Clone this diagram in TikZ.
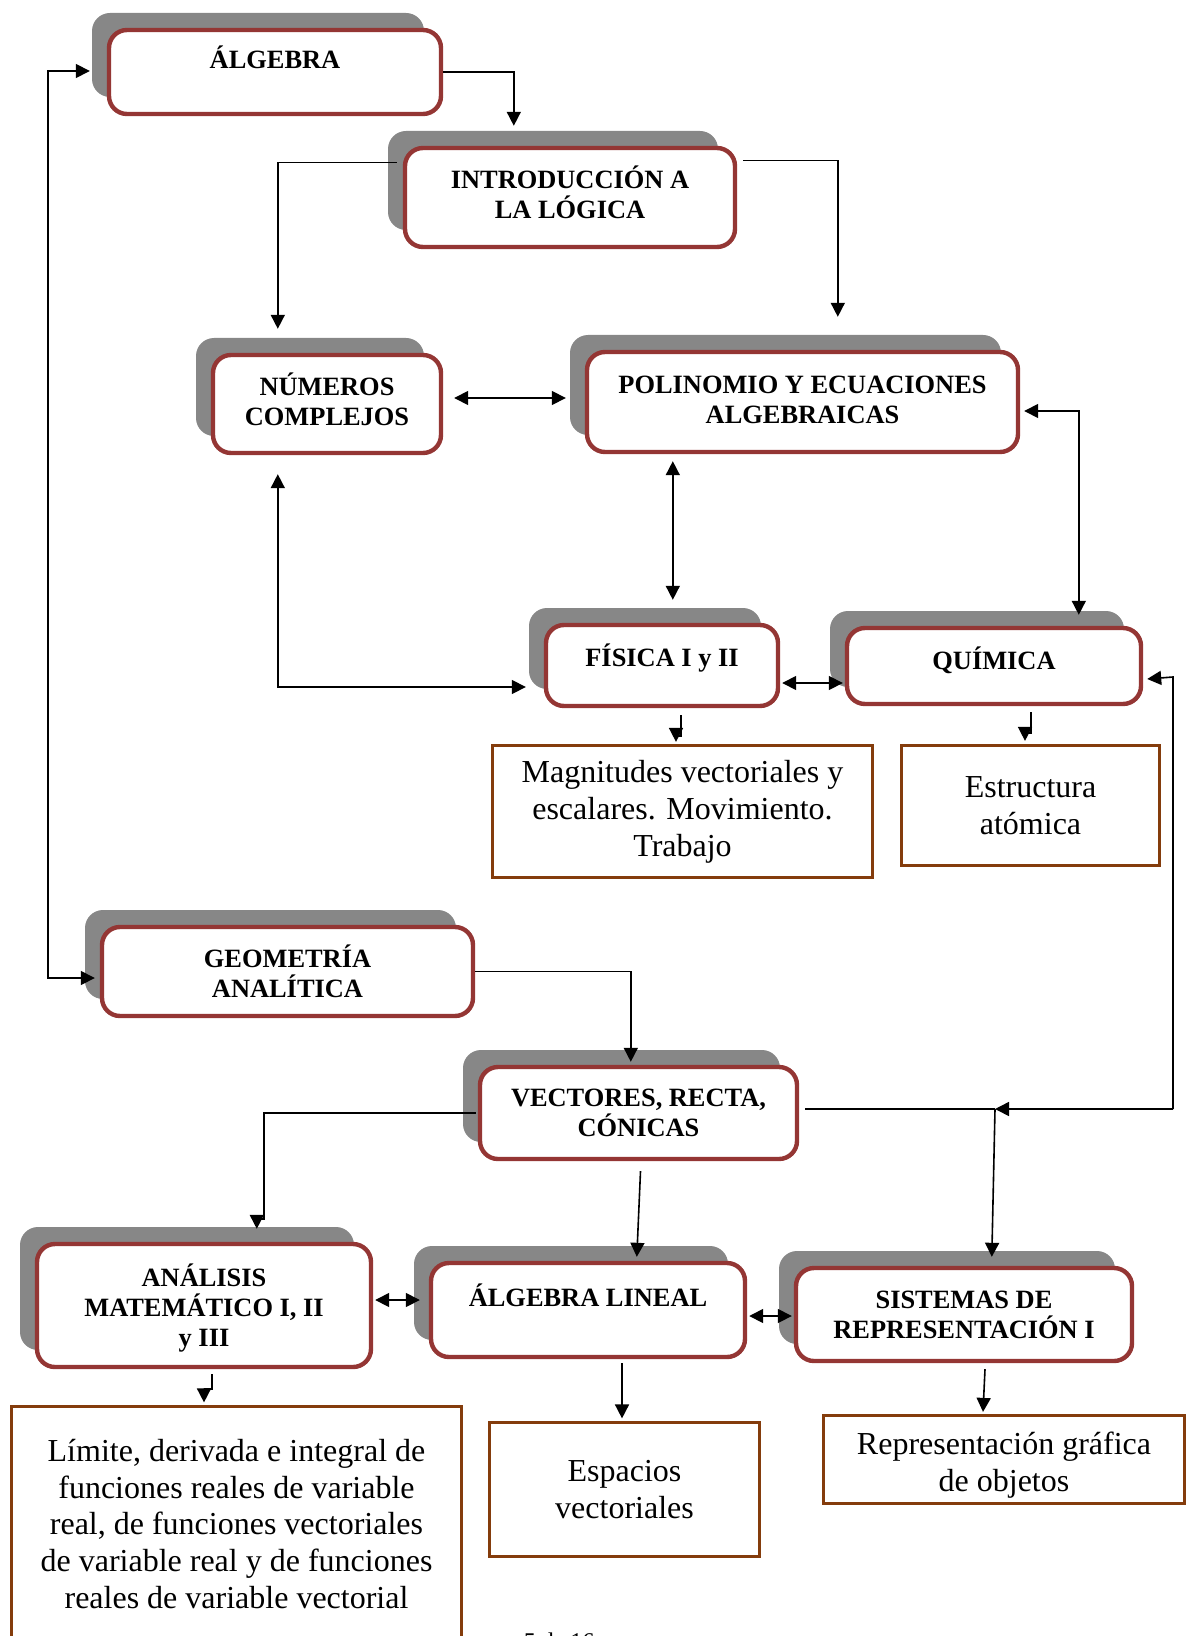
\documentclass[tikz,border=0pt]{standalone}
\usepackage{fontspec}
\setmainfont{Liberation Serif}
\usetikzlibrary{positioning,calc,shadows,arrows.meta}

\definecolor{borde}{RGB}{148,54,52}
\definecolor{sombra}{RGB}{135,135,135}
\definecolor{cafe}{RGB}{132,60,12}

\begin{document}
\begin{tikzpicture}[x=0.5pt, y=-0.5pt, >={Triangle[length=7pt,width=7pt]}, line width=0.8pt,
  curso/.style={draw=borde, line width=2.2pt, rounded corners=9pt, fill=white, align=center, inner sep=2pt,
    font=\bfseries\fontsize{13.2}{15}\selectfont,
    drop shadow={shadow xshift=-8.5pt, shadow yshift=8.5pt, fill=sombra, draw=none, opacity=1}},
  tema/.style={draw=cafe, line width=1.6pt, fill=white, align=center, inner sep=2pt,
    font=\fontsize{16}{18.4}\selectfont}]
  \useasboundingbox (0,0) rectangle (1189,1636);

  \node[curso, minimum width=166pt, minimum height=42pt] (alg) at (275,72) {ÁLGEBRA\\\mbox{}};
  \node[curso, minimum width=165pt, minimum height=49.5pt] (intro) at (570,197.5) {INTRODUCCIÓN A\\LA LÓGICA\\[-10pt]\mbox{}};
  \node[curso, minimum width=114pt, minimum height=49pt] (num) at (327,404) {NÚMEROS\\COMPLEJOS\\[-10pt]\mbox{}};
  \node[curso, minimum width=215.5pt, minimum height=50pt] (pol) at (802.5,402) {POLINOMIO Y ECUACIONES\\ALGEBRAICAS\\[-13pt]\mbox{}};
  \node[curso, minimum width=116pt, minimum height=40.5pt] (fis) at (662,665.5) {FÍSICA I y II\\[-5pt]\mbox{}};
  \node[curso, minimum width=147pt, minimum height=38pt] (quim) at (994,666) {QUÍMICA\\[-7pt]\mbox{}};
  \node[tema, minimum width=190pt, minimum height=66pt] (mag) at (682.5,811.5) {Magnitudes vectoriales y\\escalares. Movimiento.\\Trabajo};
  \node[tema, minimum width=129pt, minimum height=60pt] (estr) at (1030.5,805.5) {Estructura\\atómica};
  \node[curso, minimum width=185.5pt, minimum height=44.5pt] (geo) at (287.5,971.5) {GEOMETRÍA\\ANALÍTICA};
  \node[curso, minimum width=158.5pt, minimum height=46pt] (vect) at (638.5,1113) {VECTORES, RECTA,\\CÓNICAS};
  \node[curso, minimum width=167pt, minimum height=61.5pt] (anal) at (204,1305.5) {\rule{0pt}{14pt}ANÁLISIS\\MATEMÁTICO I, II\\y III};
  \node[curso, minimum width=157pt, minimum height=47pt] (alin) at (588,1310) {ÁLGEBRA LINEAL\\\mbox{}};
  \node[curso, minimum width=168pt, minimum height=46.5pt] (sist) at (964,1314.5) {SISTEMAS DE\\REPRESENTACIÓN I};
  \node[tema, minimum width=225pt, minimum height=117.5pt] (lim) at (236.5,1524) {Límite, derivada e integral de\\funciones reales de variable\\real, de funciones vectoriales\\de variable real y de funciones\\reales de variable vectorial};
  \node[tema, minimum width=135pt, minimum height=67pt] (esp) at (624.5,1489.5) {Espacios\\vectoriales};
  \node[tema, minimum width=180.5pt, minimum height=44pt] (rep) at (1004,1459.5) {\rule{0pt}{17pt}Representación gráfica\\de objetos};
  \node[font=\fontsize{12}{14}\selectfont, anchor=base west, inner sep=0pt] (pag) at (523,1649) {5 de 16};

  \coordinate (esquina) at (1173,1109);
  \coordinate (cruce) at (995,1109);

  \draw[->] (alg.east) -| ($(intro.north west)+(111,-20)$);
  \draw[->] ($(intro.west)+(-6,-35)$) -| ($(num.north west)+(67,-24)$);
  \draw[->] ($(intro.east)+(6,-37)$) -| ($(pol.north west)+(253,-33)$);
  \draw[<->] ($(num.east)+(11,-6)$) -- ($(pol.west)+(-19,-4)$);
  \draw[<->] ($(pol.south west)+(88,7)$) -- ($(fis.north west)+(129,-23)$);
  \draw[<->] ($(pol.east)+(4,9)$) -| ($(quim.north west)+(234,-11)$);
  \draw[<->] ($(num.south west)+(67,19)$) |- ($(fis.west)+(-18,21.5)$);
  \draw[<->] ($(fis.east)+(2,17.5)$) -- ($(quim.west)+(-2,17)$);
  \draw[->] ($(fis.south)+(19,7)$) -- ++(0,21) -- ++(-5,0) -- ($(mag.north)+(-6.5,-2)$);
  \draw[->] ($(quim.south)+(37,6)$) -- ++(0,21) -- ++(-6,0) -- ($(estr.north)+(-5.5,-3)$);
  \draw ($(vect.east)+(6,-4)$) -- (cruce);
  \draw[->] (esquina) -- (cruce);
  \draw[->] (esquina) -- ++(0,-432) -- ($(quim.east)+(4,13)$);
  \draw[->] (cruce) -- ($(sist.north west)+(198,-9)$);
  \draw[->] (geo.east) -| ($(vect.north west)+(153,-3)$);
  \draw[->] ($(vect.west)+(-2,0)$) -- ++(-212,0) -- ++(0,106) -- ++(-7,0) -- ($(anal.north west)+(222,-13)$);
  \draw[->] ($(vect.south)+(2,10)$) -- ($(alin.north west)+(208,-4)$);
  \draw[<->] ($(alg.west)+(-17,-1)$) -- ++(-42,0) |- ($(geo.west)+(-5,6.5)$);
  \draw[<->] ($(anal.east)+(2,-5.5)$) -- ($(alin.west)+(-9,-10)$);
  \draw[<->] ($(alin.east)+(2,6)$) -- ($(sist.west)+(-2,1.5)$);
  \draw[->] ($(anal.south)+(8,5)$) -- ++(0,15) -- ++(-8,0) -- ($(lim.north)+(-32.5,-2.5)$);
  \draw[->] ($(alin.south)+(34,4)$) -- ($(esp.north)+(-2.5,-2.5)$);
  \draw[->] ($(sist.south)+(21,6)$) -- ($(rep.north)+(-21,-2)$);
\end{tikzpicture}
\end{document}
